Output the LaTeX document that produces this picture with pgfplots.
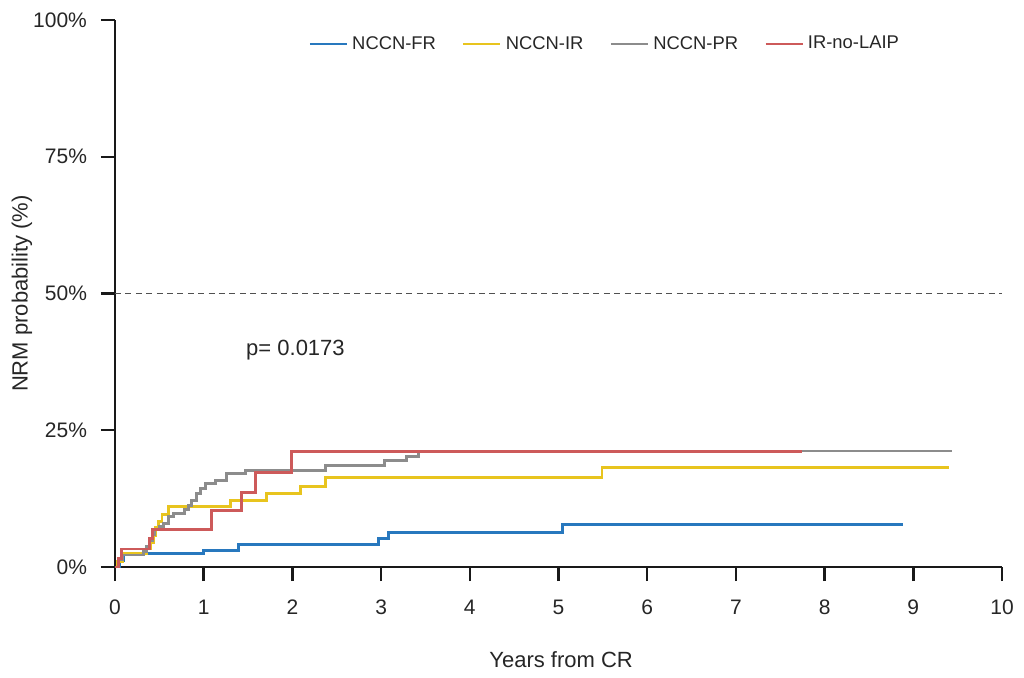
\documentclass[border=0pt]{standalone}
\usepackage{fontspec}
\setmainfont{Liberation Sans}
\usepackage{pgfplots}
\pgfplotsset{compat=1.18}
\definecolor{cFR}{RGB}{40,120,190}
\definecolor{cIR}{RGB}{232,196,30}
\definecolor{cPR}{RGB}{140,140,140}
\definecolor{cNL}{RGB}{205,90,90}
\definecolor{cDash}{RGB}{80,80,80}
\begin{document}
\begin{tikzpicture}
\path[use as bounding box] (-57.5pt,-55pt) rectangle (454.5pt,283.5pt);
\begin{axis}[
  at={(0pt,0pt)}, anchor=south west,
  scale only axis, width=443.5pt, height=273.5pt,
  xmin=0, xmax=10, ymin=0, ymax=100,
  axis x line=bottom, axis y line=left,
  axis line style={-, line width=1.2pt, black!90},
  tick align=outside, major tick length=7pt,
  tick style={line width=1.2pt, black!90},
  xtick={0,1,...,10}, ytick={0,25,50,75,100},
  /pgf/number format/assume math mode=true,
  yticklabel={\pgfmathprintnumber{\tick}\%},
  ticklabel style={font=\fontsize{10.5}{12}\selectfont, text=black!85},
  xticklabel style={yshift=-6pt},
  yticklabel style={xshift=-3.5pt},
  xlabel={Years from CR}, ylabel={NRM probability (\%)},
  label style={font=\fontsize{11}{13}\selectfont, text=black!85},
  xlabel style={at={(axis description cs:0.503,-0.170)}, anchor=center},
  ylabel style={at={(axis description cs:-0.1049,0.5)}, anchor=center},
  const plot,
  legend style={draw=none, fill=none, at={(axis description cs:0.2176,0.956)}, anchor=west,
    inner sep=0pt, font=\fontsize{9.2}{11}\selectfont, text=black!85,
    /tikz/every even column/.append style={column sep=11pt}},
  legend columns=4, legend cell align=left,
  legend image code/.code={\draw[#1,line width=1.4pt] (0pt,0pt) -- (18.5pt,0pt);},
]
\addplot[cDash, line width=0.65pt, dash pattern=on 3pt off 2.2pt, forget plot, sharp plot] coordinates {(0,50) (10,50)};

\addplot[cFR, line width=1.45pt] coordinates {
(0,0) (0.05,1.2) (0.10,2.4) (1.00,3.1) (1.39,4.1) (2.97,5.2) (3.08,6.3) (5.05,7.7) (8.88,7.7)};
\addlegendentry{NCCN-FR}

\addplot[cIR, line width=1.45pt] coordinates {
(0,0) (0.03,1.0) (0.08,2.4) (0.36,3.3) (0.40,4.5) (0.43,5.8) (0.46,7.2) (0.49,8.3) (0.53,9.6) (0.60,11.0)
(1.30,12.2) (1.71,13.5) (2.09,14.8) (2.37,16.4) (5.49,18.2) (9.40,18.2)};
\addlegendentry{NCCN-IR}

\addplot[cPR, line width=1.45pt] coordinates {
(0,0) (0.04,1.3) (0.09,2.2) (0.32,2.8) (0.36,3.8) (0.39,4.9) (0.42,5.9) (0.45,6.8) (0.50,7.4) (0.55,8.0)
(0.60,9.2) (0.66,9.8) (0.78,10.5) (0.83,11.3) (0.86,12.2) (0.92,13.5) (0.96,14.4) (1.02,15.2) (1.13,15.8)
(1.26,17.1) (1.47,17.7) (2.37,18.6) (3.04,19.5) (3.29,20.2) (3.42,21.2) (9.44,21.2)};
\addlegendentry{NCCN-PR}

\addplot[cNL, line width=1.45pt] coordinates {
(0,0) (0.04,1.5) (0.07,3.3) (0.39,5.2) (0.42,6.9) (1.09,10.3) (1.43,13.7) (1.58,17.3) (1.99,21.1) (7.74,21.1)};
\addlegendentry{IR-no-LAIP}

\node[anchor=west, font=\fontsize{11}{13}\selectfont, text=black!85] at (axis cs:1.40,39.7) {p= 0.0173};
\end{axis}
\end{tikzpicture}
\end{document}
